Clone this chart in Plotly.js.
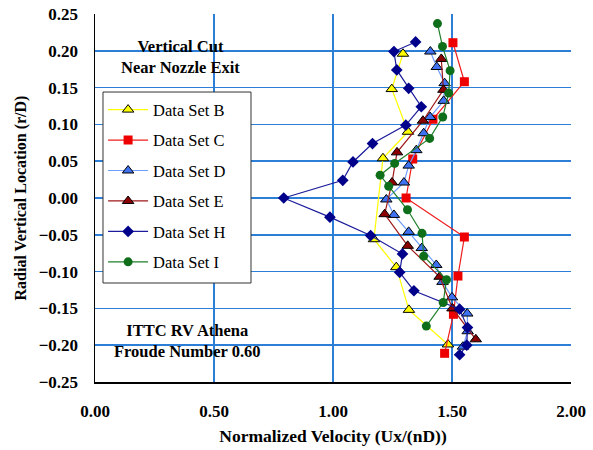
<!DOCTYPE html>
<html>
<head>
<meta charset="utf-8">
<script src="https://cdn.plot.ly/plotly-3.0.1.min.js"></script>
<style>html,body{margin:0;padding:0;background:#fff;}#chart{width:593px;height:450px;}</style>
</head>
<body>
<div id="chart"></div>
<script>
// Data Set B
const bX = [1.294, 1.247, 1.315, 1.210, 1.172, 1.266, 1.319, 1.483];
const bY = [0.196, 0.148, 0.090, 0.054, -0.056, -0.094, -0.152, -0.199];
// Data Set C
const cX = [1.504, 1.552, 1.420, 1.335, 1.307, 1.552, 1.525, 1.506, 1.469];
const cY = [0.211, 0.158, 0.107, 0.053, 0.000, -0.053, -0.106, -0.158, -0.211];
// Data Set D
const dX = [1.409, 1.436, 1.469, 1.465, 1.408, 1.381, 1.350, 1.318, 1.298, 1.224, 1.256, 1.318, 1.373, 1.434, 1.460, 1.500, 1.564, 1.566, 1.546];
const dY = [0.199, 0.178, 0.156, 0.132, 0.110, 0.088, 0.065, 0.044, 0.021, -0.002, -0.023, -0.046, -0.068, -0.091, -0.114, -0.135, -0.157, -0.181, -0.202];
// Data Set E
const eX = [1.455, 1.464, 1.378, 1.269, 1.248, 1.217, 1.314, 1.448, 1.502, 1.600];
const eY = [0.189, 0.147, 0.105, 0.062, 0.021, -0.022, -0.065, -0.107, -0.150, -0.192];
// Data Set H
const hX = [1.347, 1.256, 1.268, 1.318, 1.371, 1.306, 1.166, 1.084, 1.041, 0.793, 0.987, 1.158, 1.292, 1.280, 1.340, 1.532, 1.565, 1.562, 1.532];
const hY = [0.212, 0.199, 0.174, 0.149, 0.124, 0.099, 0.074, 0.049, 0.024, 0.000, -0.026, -0.051, -0.076, -0.101, -0.126, -0.151, -0.176, -0.200, -0.213];
// Data Set I
const iX = [1.439, 1.460, 1.492, 1.486, 1.461, 1.406, 1.259, 1.198, 1.234, 1.313, 1.374, 1.381, 1.477, 1.463, 1.392];
const iY = [0.237, 0.206, 0.173, 0.1425, 0.110, 0.081, 0.047, 0.031, 0.016, -0.016, -0.048, -0.079, -0.111, -0.142, -0.174];

const names = ['Data Set B', 'Data Set C', 'Data Set D', 'Data Set E', 'Data Set H', 'Data Set I'];
const xTicks = [0, 0.5, 1.0, 1.5, 2.0];
const yTicks = [-0.25, -0.20, -0.15, -0.10, -0.05, 0, 0.05, 0.10, 0.15, 0.20, 0.25];

function tr(x, y, name, lineColor, mColor, symbol, size, outline) {
  return {
    x: x, y: y, name: name, type: 'scatter', mode: 'lines+markers',
    legendgroup: name,
    line: {color: lineColor, width: 1.2},
    marker: {color: mColor, symbol: symbol, size: size,
             line: {color: outline ? '#000' : mColor, width: outline ? 1 : 0}}
  };
}

const data = [
  tr(bX, bY, names[0], '#ffff00', '#ffff00', 'triangle-up', 10, true),
  tr(cX, cY, names[1], '#ee1c1c', '#ee0000', 'square', 9, false),
  tr(dX, dY, names[2], '#6f9cff', '#3f72f0', 'triangle-up', 10, true),
  tr(eX, eY, names[3], '#a01818', '#8b0000', 'triangle-up', 10, true),
  tr(hX, hY, names[4], '#1c1c9c', '#00008b', 'diamond', 9, false),
  tr(iX, iY, names[5], '#1f7f2a', '#0f6e1a', 'circle', 9, false)
];

const fontFam = '"Liberation Serif", "Times New Roman", serif';
const gridC = '#2c7ed6';

const layout = {
  width: 593, height: 450,
  margin: {l: 95, r: 22, t: 14, b: 68},
  paper_bgcolor: '#fff', plot_bgcolor: '#fff',
  font: {family: fontFam, color: '#000'},
  showlegend: true,
  legend: {
    x: 0.017, y: 0.787, xanchor: 'left', yanchor: 'top',
    bgcolor: 'rgba(0,0,0,0)', borderwidth: 0,
    font: {family: fontFam, size: 16.5, color: '#000'},
    tracegroupgap: 6, itemwidth: 40
  },
  shapes: [
    {type: 'rect', xref: 'paper', yref: 'paper', layer: 'above',
     x0: 0.0168, x1: 0.3277, y0: 0.269, y1: 0.788,
     fillcolor: '#fff', line: {color: '#333', width: 1}}
  ],
  xaxis: {
    range: [0, 2], tickvals: xTicks, tickformat: '.2f',
    showgrid: true, gridcolor: gridC, gridwidth: 1.5,
    showline: true, linecolor: '#000', linewidth: 1.5, mirror: false,
    ticks: '', ticklabelstandoff: 13, zeroline: false,
    tickfont: {family: fontFam, size: 17, color: '#000', weight: 'bold'},
    title: {text: '<b>Normalized Velocity (Ux/(nD))</b>', font: {family: fontFam, size: 17.5, color: '#000'}, standoff: 10}
  },
  yaxis: {
    range: [-0.25, 0.25], tickvals: yTicks, tickformat: '.2f',
    showgrid: true, gridcolor: gridC, gridwidth: 1.5,
    showline: true, linecolor: '#000', linewidth: 1.5,
    ticks: '', ticklabelstandoff: 12, zeroline: false,
    tickfont: {family: fontFam, size: 17, color: '#000', weight: 'bold'},
    title: {text: '<b>Radial Vertical Location (r/D)</b>', font: {family: fontFam, size: 16, color: '#000'}, standoff: 8}
  },
  annotations: [
    {x: 0.36, y: 0.191, xref: 'x', yref: 'y', showarrow: false,
     text: '<b>Vertical Cut<br>Near Nozzle Exit</b>', align: 'center',
     font: {family: fontFam, size: 16.5, color: '#000'}},
    {x: 0.39, y: -0.194, xref: 'x', yref: 'y', showarrow: false,
     text: '<b>ITTC RV Athena<br>Froude Number 0.60</b>', align: 'center',
     font: {family: fontFam, size: 16.5, color: '#000'}}
  ]
};

Plotly.newPlot('chart', data, layout, {displayModeBar: false, staticPlot: true});
</script>
</body>
</html>
